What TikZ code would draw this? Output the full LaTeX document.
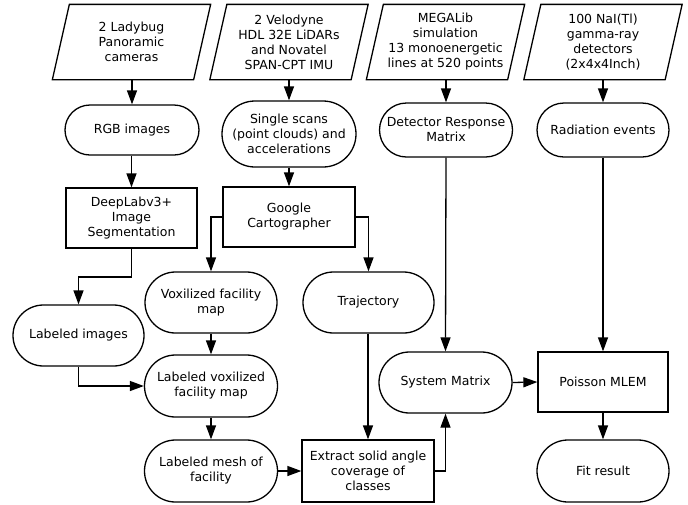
\documentclass[tikz,border=0pt]{standalone}
\usepackage{fontspec}
\setmainfont{DejaVu Sans}
\usetikzlibrary{arrows.meta,shapes.misc,calc}
\begin{document}
\begin{tikzpicture}[x=1pt,y=-1pt,
  line width=1.3pt,
  font=\fontsize{12.5}{15}\selectfont,
  every node/.style={align=center,inner sep=0pt},
  term/.style={draw,rounded rectangle,minimum width=#1},
  term/.default=133,
  boxx/.style={draw,rectangle,minimum width=131,minimum height=60},
  paratext/.style={minimum width=140,minimum height=74},
  arr/.style={-{Triangle[length=14pt,width=10pt]}}
]
\useasboundingbox (0,0) rectangle (688,504);
% inputs
\node[paratext] (p1) at (131.5,42) {2 Ladybug\\Panoramic\\cameras};
\node[paratext] (p2) at (289,42) {2 Velodyne\\HDL 32E LiDARs\\and Novatel\\SPAN-CPT IMU};
\node[paratext] (p3) at (445.5,42) {MEGALib\\simulation\\13 monoenergetic\\lines at 520 points};
\node[paratext] (p4) at (603,42) {100 NaI(Tl)\\gamma-ray\\detectors\\(2x4x4Inch)};
\foreach \p in {p1,p2,p3,p4}{
  \draw ($(\p.north west)+(8.5,0)$) -- ($(\p.north east)+(8.5,0)$) -- ($(\p.south east)+(-8.5,0)$) -- ($(\p.south west)+(-8.5,0)$) -- cycle;
}
% row 2
\node[term=134,minimum height=50] (rgb) at (132,130) {RGB images};
\node[term=134,minimum height=66] (scans) at (289,134) {Single scans\\(point clouds) and\\accelerations};
\node[term=133,minimum height=54] (drm) at (446,130) {Detector Response\\Matrix};
\node[term=132,minimum height=54] (rad) at (603,130) {Radiation events};
% row 3
\node[boxx] (deeplab) at (131.5,218) {DeepLabv3+\\Image\\Segmentation};
\node[boxx,minimum width=132] (google) at (289,217) {Google\\Cartographer};
% row 4
\node[term=132,minimum height=61] (vox) at (211,302.5) {Voxilized facility\\map};
\node[term=131,minimum height=61] (traj) at (368.5,302.5) {Trajectory};
\node[term=131,minimum height=61] (labimg) at (78.5,335.5) {Labeled images};
% row 5
\node[term=133,minimum height=62] (lvfm) at (211,386) {Labeled voxilized\\facility map};
\node[term=133,minimum height=61] (sysm) at (445.5,382.5) {System Matrix};
\node[boxx,minimum width=130] (poisson) at (603,382) {Poisson MLEM};
% row 6
\node[term=133,minimum height=62] (mesh) at (211,471) {Labeled mesh of\\facility};
\node[boxx,minimum width=132,minimum height=62] (extract) at (368,471) {Extract solid angle\\coverage of\\classes};
\node[term=132,minimum height=62] (fit) at (603,471) {Fit result};
% connectors
\draw[arr] (p1.south -| rgb.north) -- (rgb.north);
\draw[arr] (p2.south -| scans.north) -- (scans.north);
\draw[arr] (p3.south -| drm.north) -- (drm.north);
\draw[arr] (p4.south) -- (rad.north);
\draw[arr] (rgb.south -| deeplab.north) -- (deeplab.north);
\draw[arr] (scans.south) -- (google.north);
\draw[arr] (deeplab.south) -- (deeplab.south |- 0,277) -| (labimg.north);
\draw[arr] (google.west) -| (vox.north);
\draw[arr] (google.east) -| (traj.north);
\draw[arr] (vox.south) -- (lvfm.north);
\draw[arr] (labimg.south) |- (lvfm.west);
\draw[arr] (lvfm.south) -- (mesh.north);
\draw[arr] (mesh.east) -- (extract.west);
\draw[arr] (traj.south -| extract.north) -- (extract.north);
\draw[arr] (extract.east) -| (sysm.south);
\draw[arr] (drm.south) -- (sysm.north);
\draw[arr] (sysm.east) -- (poisson.west);
\draw[arr] (rad.south) -- (poisson.north);
\draw[arr] (poisson.south) -- (fit.north);
\end{tikzpicture}
\end{document}
